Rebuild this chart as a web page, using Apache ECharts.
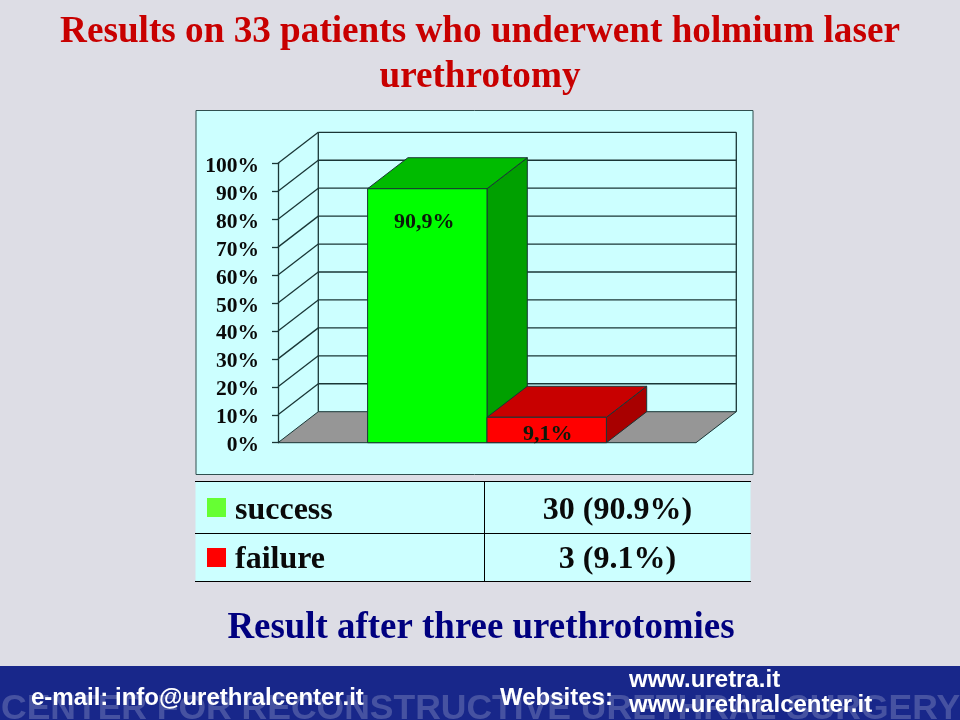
<!DOCTYPE html>
<html><head><meta charset="utf-8">
<script src="https://cdn.jsdelivr.net/npm/echarts@6/dist/echarts.min.js"></script>
<style>html,body{margin:0;padding:0;background:#dddde5}#c{width:960px;height:720px}</style>
</head><body><div id="c"></div>
<script>
const categories = ['Result after three urethrotomies'];
const seriesNames = ['success', 'failure'];
const seriesValues = [90.9, 9.1];
const barLabels = ['90,9%', '9,1%'];
const tableValues = ['30 (90.9%)', '3 (9.1%)'];
const yTicks = [0,10,20,30,40,50,60,70,80,90,100];
const titleLines = ['Results on 33 patients who underwent holmium laser', 'urethrotomy'];
const subtitleText = 'Result after three urethrotomies';

const DX = 40.3, DY = -31, BARFRAC = 119.4/418;
const SERIF = '"Liberation Serif","Times New Roman",serif';
const SANS = '"Liberation Sans",Arial,sans-serif';
const LINE = '#1a3636';
const faces = [
  {front:'#00ff00', top:'#00bb00', side:'#00a000'},
  {front:'#ff0000', top:'#c80000', side:'#a80000'}
];
const legendColors = ['#66ff33', '#ff0000'];

function poly(points, fill, stroke){
  return {type:'polygon', shape:{points}, style:{fill:fill||'none', stroke:stroke||LINE, lineWidth:1}};
}
function line(x1,y1,x2,y2){
  return {type:'line', shape:{x1,y1,x2,y2}, style:{stroke:LINE, lineWidth:1.3}};
}
function renderWall(params, api){
  const v = api.value(1);
  const p = api.coord([0, v]);
  const half = api.size([1,0])[0]/2;
  const xl = p[0]-half, xr = p[0]+half;
  const children = [];
  if (params.dataIndex === 0){
    const top = api.coord([0, yTicks[yTicks.length-1]])[1];
    children.push(poly([[xl,p[1]],[xr,p[1]],[xr+DX,p[1]+DY],[xl+DX,p[1]+DY]], '#969696'));
    children.push(line(xl+DX,p[1]+DY,xl+DX,top+DY));
    children.push(line(xr+DX,p[1]+DY,xr+DX,top+DY));
  } else {
    children.push(line(xl,p[1],xl+DX,p[1]+DY));
    children.push(line(xl+DX,p[1]+DY,xr+DX,p[1]+DY));
  }
  return {type:'group', children};
}
function renderBar(idx){
  return function(params, api){
    const c = api.coord([0, api.value(1)]);
    const base = api.coord([0, 0])[1];
    const w = api.size([1,0])[0]*BARFRAC;
    const x0 = c[0]-w+idx*w, x1 = x0+w, y = c[1];
    const f = faces[idx];
    return {type:'group', children:[
      poly([[x1,y],[x1+DX,y+DY],[x1+DX,base+DY],[x1,base]], f.side),
      poly([[x0,y],[x0+DX,y+DY],[x1+DX,y+DY],[x1,y]], f.top),
      poly([[x0,y],[x1,y],[x1,base],[x0,base]], f.front),
      {type:'text', z2:10, style:{text:barLabels[idx], x: idx===0 ? (x0+x1)/2-3 : (x0+x1)/2+1, y: idx===0 ? y+34 : y+17,
        align:'center', verticalAlign:'middle', font:'bold 22px '+SERIF, fill:'#0a1a0a'}}
    ]};
  };
}

const gfx = [];
function rect(x,y,w,h,fill,stroke){
  gfx.push({type:'rect', z:0, silent:true, shape:{x,y,width:w,height:h},
    style:{fill, stroke:stroke||'none', lineWidth:1}});
}
function hline(x1,y1,x2,y2,color){
  gfx.push({type:'line', z:1, silent:true, shape:{x1,y1,x2,y2}, style:{stroke:color||'#000', lineWidth:1}});
}
function text(t,x,y,font,fill,align,extra){
  gfx.push({type:'text', z:5, silent:true, style:Object.assign({text:t,x,y,font,fill,
    align:align||'center', verticalAlign:'middle'}, extra||{})});
}
// title
titleLines.forEach((t,i)=>text(t,480,i===0?32:77,'bold 37.2px '+SERIF,'#c80000','center'));
// chart panel
rect(196,110.5,557,364,'#ccffff','#2f4f4f');
// table
rect(195.5,481.5,555,100,'#ccffff');
[481.5,533.5,581.5].forEach(y=>hline(195,y,751,y));
hline(484.5,481,484.5,582);
[498,548].forEach((y,i)=>{ rect(207,y,19,19,legendColors[i]); });
seriesNames.forEach((n,i)=>{
  const y = i===0 ? 511 : 560;
  text(n,235,y,'bold 32px '+SERIF,'#0a0a0a','left');
  text(tableValues[i],617.5,y,'bold 32px '+SERIF,'#0a0a0a','center');
});
// subtitle
text(subtitleText,481,628,'bold 36.9px '+SERIF,'#00007f','center');
// footer
rect(0,666,960,54,'#18278a');
text('CENTER FOR RECONSTRUCTIVE URETHRAL SURGERY',1,709,'bold 35.5px '+SANS,'rgba(255,255,255,0.2)','left');
text('e-mail: info@urethralcenter.it',31,698,'bold 24px '+SANS,'#ffffff','left');
text('Websites:',500,698,'bold 24px '+SANS,'#ffffff','left');
text('www.uretra.it',629,680,'bold 24px '+SANS,'#ffffff','left');
text('www.urethralcenter.it',629,705,'bold 24px '+SANS,'#ffffff','left');

const chart = echarts.init(document.getElementById('c'));
chart.setOption({
  animation:false,
  backgroundColor:'#dddde5',
  grid:{left:278, right:264, top:163.3, bottom:277.3, containLabel:false},
  xAxis:{type:'category', data:categories, axisLine:{show:false}, axisTick:{show:false}, axisLabel:{show:false}},
  yAxis:{type:'value', min:0, max:100, interval:10,
    axisLine:{show:true, lineStyle:{color:LINE, width:1.3}},
    axisTick:{show:true, length:6, lineStyle:{color:LINE, width:1.3}},
    splitLine:{show:false},
    axisLabel:{margin:19, formatter:'{a|{value}%}',
      rich:{a:{padding:[6,0,0,0], fontFamily:SERIF, fontWeight:'bold', fontSize:21.5, color:'#0a0a0a'}}}},
  graphic:gfx,
  series:[
    {type:'custom', name:'wall', z:1, silent:true, clip:false, renderItem:renderWall,
     encode:{x:0,y:1}, data:yTicks.map(v=>[0,v])},
    ...seriesNames.map((n,i)=>({type:'custom', name:n, z:3+i, silent:true, clip:false,
      renderItem:renderBar(i), encode:{x:0,y:1}, data:[[0,seriesValues[i]]]}))
  ]
});
</script></body></html>
